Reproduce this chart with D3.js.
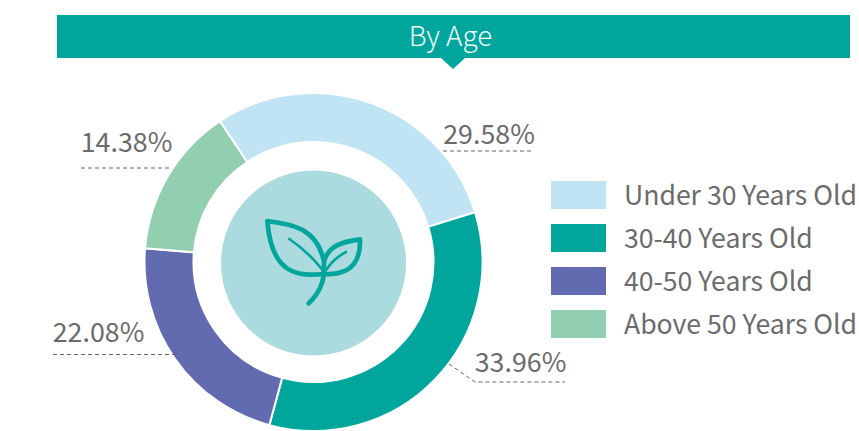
<!DOCTYPE html>
<html>
<head>
<meta charset="utf-8">
<script src="https://cdn.jsdelivr.net/npm/d3@7"></script>
<style>
html, body { margin: 0; padding: 0; background: #fff; }
svg { display: block; }
text { font-family: "Noto Sans CJK SC", "Noto Sans", sans-serif; font-weight: 400; }
</style>
</head>
<body>
<svg class="chart"></svg>
<script>
/******** Data ********/
var categories = ["Under 30 Years Old", "30-40 Years Old", "40-50 Years Old", "Above 50 Years Old"];
var values = [29.58, 33.96, 22.08, 14.38];
var colors = ["#c0e4f4", "#00a59b", "#626ab0", "#92ceb0"];
var title = "By Age";

var width = 859, height = 431;
var cx = 313.5, cy = 262;

var canvas = d3.select(".chart").attr("width", width).attr("height", height);

/******** Header ********/
canvas.append("rect").attr("x", 57).attr("y", 15).attr("width", 793).attr("height", 43).attr("fill", "#00a59b");
canvas.append("path").attr("d", "M441,58L453,69L465,58Z").attr("fill", "#00a59b");
canvas.append("text").text(title)
    .attr("x", 450.5).attr("y", 46)
    .attr("text-anchor", "middle")
    .attr("font-size", 27.8)
    .style("font-weight", 300)
    .attr("fill", "#eef9f8");

/******** Donut ********/
var startDeg = -33.6;
var pie = d3.pie().sort(null).value(d => d)
    .startAngle(startDeg * Math.PI / 180)
    .endAngle((startDeg + 360) * Math.PI / 180);
var arc = d3.arc().innerRadius(120).outerRadius(169);

var donut = canvas.append("g").attr("transform", "translate(" + cx + "," + cy + ")");
donut.selectAll("path")
    .data(pie(values))
    .enter()
    .append("path")
    .attr("d", arc)
    .attr("fill", (d, i) => colors[i])
    .attr("stroke", "#fff")
    .attr("stroke-width", 2);

donut.append("circle").attr("cx", 0).attr("cy", 1).attr("r", 92.5).attr("fill", "#abdadf");

/******** Leaf icon (traced in 3x crop coords) ********/
var leaf = canvas.append("g")
    .attr("transform", "translate(200,170) scale(0.3333)")
    .attr("fill", "none")
    .attr("stroke", "#00a59b")
    .attr("stroke-linecap", "round")
    .attr("stroke-linejoin", "round");
leaf.append("path").attr("stroke-width", 14)
    .attr("d", "M202,153C270,162 350,170 372,275C372,290 372,300 372,312C300,318 215,320 202,153Z");
leaf.append("path").attr("stroke-width", 14)
    .attr("d", "M372,275C385,225 430,215 480,208C482,260 465,318 372,312");
leaf.append("path").attr("stroke-width", 14)
    .attr("d", "M372,300C372,345 352,375 326,400");
leaf.append("path").attr("stroke-width", 8)
    .attr("d", "M268,207C305,232 340,265 368,300");
leaf.append("path").attr("stroke-width", 8)
    .attr("d", "M438,246C415,258 395,275 380,298");

/******** Value labels ********/
// leader line points and text anchor for each slice, same order as values
var labelLayout = [
    { line: [[443, 151], [533, 151]], tx: 489, ty: 144 },
    { line: [[449, 364], [475, 382], [565, 382]], tx: 520.5, ty: 372 },
    { line: [[53, 354.5], [176, 354.5]], tx: 98.5, ty: 342 },
    { line: [[81, 168], [172, 168]], tx: 126.5, ty: 152 }
];
var lineGen = d3.line();
values.forEach(function (v, i) {
    canvas.append("path")
        .attr("d", lineGen(labelLayout[i].line))
        .attr("fill", "none")
        .attr("stroke", "#666")
        .attr("stroke-width", 1)
        .attr("stroke-dasharray", "4,3");
    canvas.append("text")
        .text(v.toFixed(2) + "%")
        .attr("x", labelLayout[i].tx)
        .attr("y", labelLayout[i].ty)
        .attr("text-anchor", "middle")
        .attr("font-size", 26.8)
        .attr("fill", "#6b6b6b");
});

/******** Legend ********/
var legendY = d3.scalePoint().domain(categories).range([181, 310]);
var legendItem = canvas.selectAll(".legend-item")
    .data(categories)
    .enter()
    .append("g")
    .attr("class", "legend-item")
    .attr("transform", d => "translate(551," + legendY(d) + ")");
legendItem.append("rect")
    .attr("width", 55).attr("height", 28)
    .attr("fill", (d, i) => colors[i]);
legendItem.append("text")
    .text(d => d)
    .attr("x", 73).attr("y", 24)
    .attr("font-size", 26.6)
    .attr("fill", "#6b6b6b");
</script>
</body>
</html>
